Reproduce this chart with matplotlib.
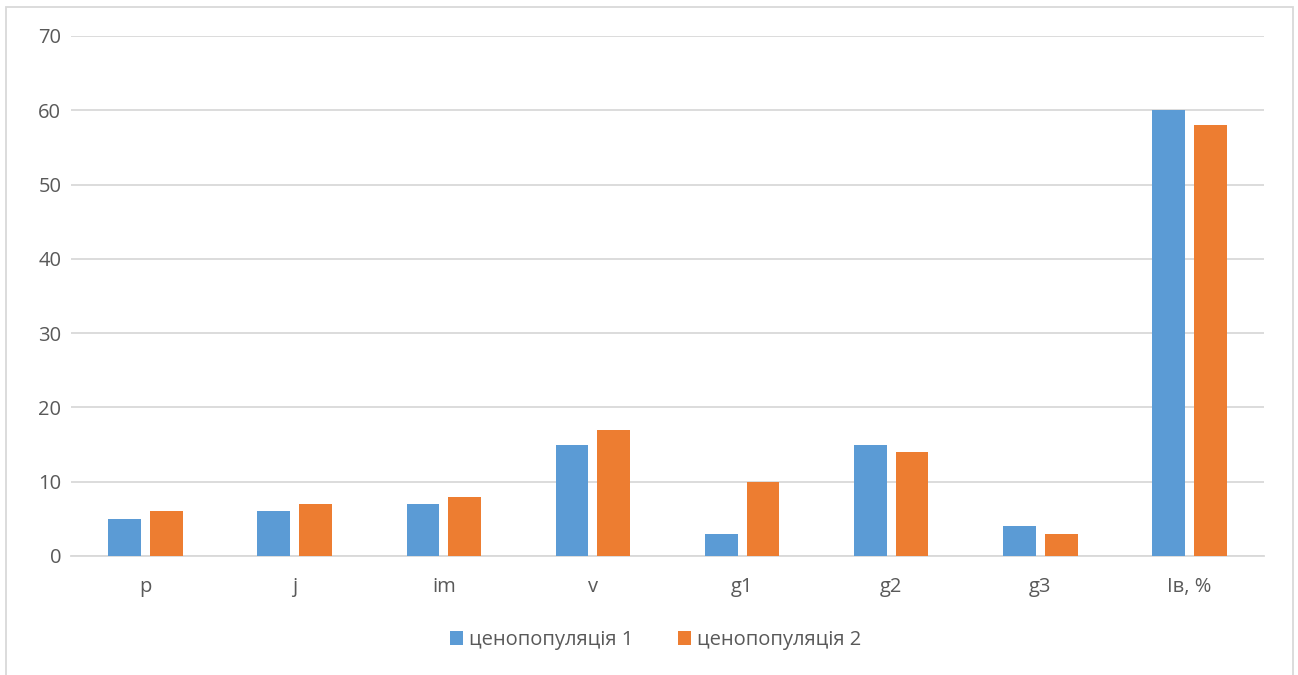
import matplotlib.pyplot as plt
import numpy as np
from matplotlib.patches import Rectangle

# age-state groups and shares for two coenopopulations
categories = ['p', 'j', 'im', 'v', 'g1', 'g2', 'g3', 'Iв, %']
pop1 = [5, 6, 7, 15, 3, 15, 4, 60]
pop2 = [6, 7, 8, 17, 10, 14, 3, 58]
labels = ['ценопопуляція 1', 'ценопопуляція 2']

blue = '#5B9BD5'
orange = '#ED7D31'
text_col = '#595959'
grid_col = '#D9D9D9'

plt.rcParams['font.family'] = ['Open Sans', 'DejaVu Sans']

fig = plt.figure(figsize=(12.98, 6.75), dpi=100)
ax = fig.add_axes([0.0547, 0.1763, 0.9191, 0.7704])

x = np.arange(len(categories))
w = 0.22
gap = 0.06
ax.bar(x - (w + gap) / 2, pop1, w, color=blue, label=labels[0], zorder=3)
ax.bar(x + (w + gap) / 2, pop2, w, color=orange, label=labels[1], zorder=3)

ax.set_xlim(-0.5, len(categories) - 0.5)
ax.set_ylim(0, 70)
ax.set_yticks(range(0, 71, 10))
ax.set_xticks(x)
ax.set_xticklabels(categories)
ax.yaxis.grid(True, color=grid_col, linewidth=1.3, zorder=0)
ax.tick_params(axis='both', length=0, labelsize=14.5, labelcolor=text_col)
ax.tick_params(axis='x', pad=15)
ax.tick_params(axis='y', pad=7)
for side in ['top', 'right', 'left']:
    ax.spines[side].set_visible(False)
ax.spines['bottom'].set_color(grid_col)
ax.spines['bottom'].set_linewidth(1.3)

fig.legend(loc='center', bbox_to_anchor=(0.505, 0.052), ncol=2, frameon=False,
           fontsize=14.5, labelcolor=text_col, handlelength=0.65, handleheight=0.65,
           handletextpad=0.3, columnspacing=2.2)

# chart frame
fig.patches.append(Rectangle((6 / 1298, -0.05), 1287 / 1298, 1.05 - 7 / 675,
                             transform=fig.transFigure, fill=False,
                             edgecolor=grid_col, linewidth=1.3))

fig.savefig('out.png', dpi=100)
